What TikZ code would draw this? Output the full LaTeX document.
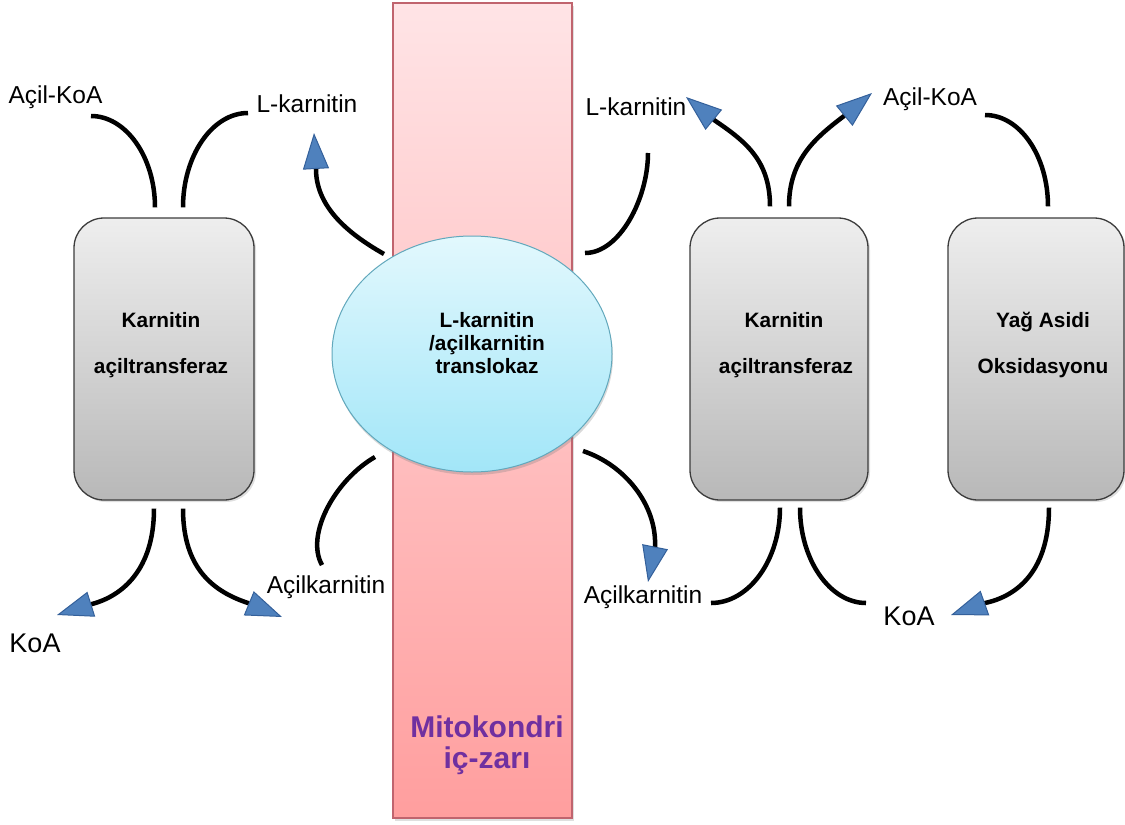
\documentclass[tikz,border=0pt]{standalone}
\usepackage{fontspec}
\setmainfont{Liberation Sans}
\usetikzlibrary{arrows.meta,shapes.geometric,shadows}
\definecolor{memtop}{HTML}{FFE4E6}
\definecolor{membot}{HTML}{FF9E9E}
\definecolor{memedge}{HTML}{C0646E}
\definecolor{memtext}{HTML}{7030A0}
\definecolor{elltop}{HTML}{E2F8FD}
\definecolor{ellbot}{HTML}{A2E6F8}
\definecolor{elledge}{HTML}{62A8BC}
\definecolor{boxtop}{HTML}{EEEEEE}
\definecolor{boxbot}{HTML}{B8B8B8}
\definecolor{boxedge}{HTML}{3C3C3C}
\definecolor{arrowblue}{HTML}{4F81BD}
\definecolor{arrowedge}{HTML}{34609A}
\begin{document}
\begin{tikzpicture}[x=1pt,y=-1pt,
  lbl/.style={anchor=base,inner sep=0pt,font=\fontsize{24.5}{29}\selectfont},
  koa/.style={anchor=base,inner sep=0pt,font=\fontsize{27}{32}\selectfont},
  btext/.style={anchor=base,inner sep=0pt,font=\bfseries\fontsize{20.8}{25}\selectfont},
  mtext/.style={anchor=base,inner sep=0pt,text=memtext,font=\bfseries\fontsize{30}{34}\selectfont},
  enzyme/.style={draw=boxedge,line width=1.3pt,rounded corners=30pt,top color=boxtop,bottom color=boxbot,
    minimum height=282pt,inner sep=0pt,drop shadow={shadow xshift=2pt,shadow yshift=-2pt,opacity=0.25}},
  conn/.style={draw=black,line width=4.5pt},
  arr/.style={-{Triangle[length=36pt,width=26pt,fill=arrowblue,color=arrowedge,line width=1pt]}}]
\useasboundingbox (0,0) rectangle (1125,825);
% membrane
\node[draw=memedge,line width=1.2pt,top color=memtop,bottom color=membot,minimum width=179pt,minimum height=815pt,inner sep=0pt,
  drop shadow={shadow xshift=2pt,shadow yshift=-3pt,opacity=0.25}] (mem) at (482.5,410.5) {};
\node[mtext] (mt1) at (487,737) {Mitokondri};
\node[mtext] (mt2) at (487,768) {iç-zarı};
% translocase
\node[ellipse,draw=elledge,line width=1pt,top color=elltop,bottom color=ellbot,minimum width=280pt,minimum height=236pt,inner sep=0pt,
  drop shadow={shadow xshift=1pt,shadow yshift=-3pt,opacity=0.3}] (tr) at (472,354) {};
\node[btext] (tr1) at (487,327) {L-karnitin};
\node[btext] (tr2) at (487,350) {/açilkarnitin};
\node[btext] (tr3) at (487,373) {translokaz};
% enzyme boxes
\node[enzyme,minimum width=180pt] (lb) at (164,359) {};
\node[enzyme,minimum width=178pt] (mb) at (779,359) {};
\node[enzyme,minimum width=176pt] (rb) at (1036,359) {};
\node[btext] (lb1) at (161,327) {Karnitin};
\node[btext] (lb2) at (161,373) {açiltransferaz};
\node[btext] (mb1) at (784,327) {Karnitin};
\node[btext] (mb2) at (786,373) {açiltransferaz};
\node[btext] (rb1) at (1043,327) {Yağ Asidi};
\node[btext] (rb2) at (1043,373) {Oksidasyonu};
% labels
\node[lbl] (t1) at (55.5,103) {Açil-KoA};
\node[lbl] (t2) at (307,112) {L-karnitin};
\node[lbl] (t3) at (636,115) {L-karnitin};
\node[lbl] (t4) at (930,105) {Açil-KoA};
\node[lbl] (t5) at (326,593) {Açilkarnitin};
\node[koa] (t6) at (35,652) {KoA};
\node[lbl] (t7) at (643,603) {Açilkarnitin};
\node[koa] (t8) at (909,625) {KoA};
% free ends
\coordinate (e1) at (91,116);
\coordinate (e2) at (248,113);
\coordinate (e3) at (314,133);
\coordinate (e4) at (648,153);
\coordinate (e5) at (686,97);
\coordinate (e6) at (872,93);
\coordinate (e7) at (985,115);
\coordinate (e8) at (57,615);
\coordinate (e9) at (282,617);
\coordinate (e10) at (322,565);
\coordinate (e11) at (648,582);
\coordinate (e12) at (711,603);
\coordinate (e13) at (866,603);
\coordinate (e14) at (951,615);
% connectors, upper side
\draw[conn] ([shift={(-9,-10)}]lb.north) .. controls (155,157) and (126,116) .. (e1);
\draw[conn] ([shift={(19,-10)}]lb.north) .. controls (183,156) and (212,113) .. (e2);
\draw[conn,arr] ([shift={(-88,-100)}]tr.center) .. controls (345,232) and (316,205) .. (316,169) -- (e3);
\draw[conn] ([shift={(113,-101)}]tr.center) .. controls (620,253) and (648,198) .. (e4);
\draw[conn,arr] ([shift={(-9,-11)}]mb.north) .. controls (770,160) and (745,141) .. (714,120) -- (e5);
\draw[conn,arr] ([shift={(10,-11)}]mb.north) .. controls (789,160) and (815,138) .. (844,116) -- (e6);
\draw[conn] ([shift={(12,-11)}]rb.north) .. controls (1048,156) and (1020,115) .. (e7);
% connectors, lower side
\draw[conn,arr] ([shift={(-10,8)}]lb.south) .. controls (154,570) and (122,596) .. (92,604) -- (e8);
\draw[conn,arr] ([shift={(19,8)}]lb.south) .. controls (183,570) and (215,592) .. (248,603) -- (e9);
\draw[conn] ([shift={(-97,103)}]tr.center) .. controls (335,480) and (305,535) .. (e10);
\draw[conn,arr] ([shift={(111,97)}]tr.center) .. controls (625,465) and (657,505) .. (655,547) -- (e11);
\draw[conn] ([shift={(1,7)}]mb.south) .. controls (780,560) and (749,603) .. (e12);
\draw[conn] ([shift={(21,7)}]mb.south) .. controls (800,560) and (830,603) .. (e13);
\draw[conn,arr] ([shift={(13,7)}]rb.south) .. controls (1049,570) and (1018,596) .. (985,603) -- (e14);
\end{tikzpicture}
\end{document}
